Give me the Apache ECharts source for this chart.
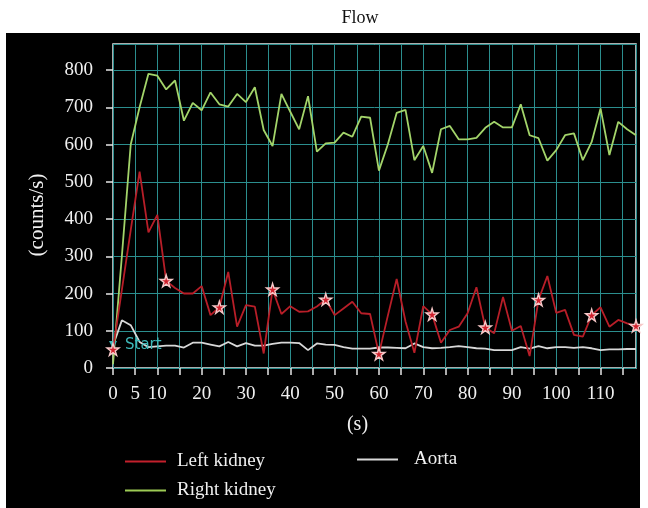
<!DOCTYPE html>
<html>
<head>
<meta charset="utf-8">
<script src="https://cdn.jsdelivr.net/npm/echarts@6/dist/echarts.min.js"></script>
<style>
html,body{margin:0;padding:0;background:#fff;}
#chart{width:648px;height:508px;}
</style>
</head>
<body>
<div id="chart"></div>
<script>
// Time (s)
const times = [0,2,4,6,8,10,12,14,16,18,20,22,24,26,28,30,32,34,36,38,40,42,44,46,48,50,52,54,56,58,
  60,62,64,66,68,70,72,74,76,78,80,82,84,86,88,90,92,94,96,98,100,102,104,106,108,110,112,114,116,118];
// Left kidney (counts/s)
const leftKidney = [50,210,370,527,364,411,234,215,200,200,220,142,163,258,111,169,165,39,211,145,
  166,151,152,165,184,142,160,178,147,145,38,140,239,125,41,166,144,68,102,111,
  147,217,109,93,191,100,113,32,183,247,148,156,89,84,142,163,111,129,120,113];
// Right kidney (counts/s)
const rightKidney = [10,300,600,700,790,785,748,772,664,712,692,740,708,702,736,714,754,639,596,736,
  688,641,730,581,603,605,632,621,675,672,530,600,685,693,558,596,524,641,650,614,
  614,618,645,661,646,646,708,625,617,557,585,625,630,558,607,697,572,661,641,625];
// Aorta (counts/s)
const aorta = [60,128,115,70,56,58,60,60,55,68,68,63,58,70,58,67,60,60,65,68,
  68,67,48,66,63,62,56,52,52,52,55,55,54,53,66,56,53,54,56,59,
  56,53,52,48,48,48,56,52,59,53,56,56,54,56,53,48,50,50,51,51];
// Times with star markers on the left kidney curve
const markerTimes = [0,12,24,36,48,60,72,84,96,108,118];
const xTickLabels = [0,5,10,20,30,40,50,60,70,80,90,100,110];
const yTickLabels = [0,100,200,300,400,500,600,700,800];
const startPoint = [0, 62];

const pair = (vals) => times.map((t, i) => [t, vals[i]]);
const serif = '"Liberation Serif", "DejaVu Serif", serif';
const STAR = 'path://M50,0 L61,35 L98,35 L68,57 L79,91 L50,70 L21,91 L32,57 L2,35 L39,35 Z';
const RED = '#c3202c', GREEN = '#a3d46a', WHITE = '#d8d8d8';

const chart = echarts.init(document.getElementById('chart'));
chart.setOption({
  backgroundColor: '#ffffff',
  animation: false,
  title: {
    text: 'Flow', left: 355, top: 4, textAlign: 'center',
    textStyle: {color: '#111', fontFamily: serif, fontSize: 18, fontWeight: 'normal'}
  },
  graphic: [{
    type: 'rect', z: -100, silent: true,
    shape: {x: 6, y: 33, width: 634, height: 475},
    style: {fill: '#000'}
  }],
  grid: {
    left: 113, right: 12, top: 44, bottom: 140,
    show: true, backgroundColor: '#000', borderColor: '#e6e6e6', borderWidth: 1.5
  },
  legend: [{
    orient: 'vertical', left: 125, top: 452, itemGap: 10, padding: 0,
    itemWidth: 41, itemHeight: 2, icon: 'rect',
    data: [{name: 'Left kidney', itemStyle: {color: RED, borderWidth: 0}}, 'Right kidney'],
    textStyle: {color: '#f0f0f0', fontFamily: serif, fontSize: 19, padding: [0, 0, 0, 6]}
  }, {
    orient: 'vertical', left: 357, top: 450, padding: 0,
    itemWidth: 41, itemHeight: 2, icon: 'rect',
    data: ['Aorta'],
    textStyle: {color: '#f0f0f0', fontFamily: serif, fontSize: 19, padding: [0, 0, 0, 11]}
  }],
  xAxis: {
    type: 'value', min: 0, max: 118, interval: 5,
    name: '(s)', nameLocation: 'middle', nameGap: 47,
    nameTextStyle: {color: '#f0f0f0', fontFamily: serif, fontSize: 20, padding: [0, 34, 0, 0]},
    axisLine: {show: false},
    axisTick: {show: true, length: 7, lineStyle: {color: '#e6e6e6', width: 1.5}},
    axisLabel: {
      color: '#f0f0f0', fontFamily: serif, fontSize: 19, margin: 17,
      showMaxLabel: false,
      formatter: (v) => xTickLabels.indexOf(v) >= 0 ? String(v) : ''
    },
    splitLine: {show: true, lineStyle: {color: '#2b8e8e', width: 1}}
  },
  yAxis: {
    type: 'value', min: 0, max: 870, interval: 100,
    name: '(counts/s)', nameLocation: 'middle', nameGap: 65, nameRotate: 90,
    nameTextStyle: {color: '#f0f0f0', fontFamily: serif, fontSize: 21, padding: [0, 18, 0, 0]},
    axisLine: {show: false},
    axisTick: {show: true, length: 7, lineStyle: {color: '#e6e6e6', width: 1.5}},
    axisLabel: {
      color: '#f0f0f0', fontFamily: serif, fontSize: 19, margin: 20,
      showMaxLabel: false,
      formatter: (v) => yTickLabels.indexOf(v) >= 0 ? String(v) : ''
    },
    splitLine: {show: true, lineStyle: {color: '#2b8e8e', width: 1}}
  },
  series: [{
    name: 'Aorta', type: 'line', data: pair(aorta),
    showSymbol: false, symbol: 'none', z: 3,
    color: WHITE,
    lineStyle: {color: WHITE, width: 1.8},
    markPoint: {
      symbol: 'triangle', symbolSize: 8, symbolRotate: 180,
      itemStyle: {color: '#3db8b8'},
      label: {show: true, position: 'right', distance: 8, formatter: 'Start',
        color: '#3db8b8', fontFamily: '"DejaVu Sans", sans-serif', fontSize: 15},
      data: [{coord: startPoint}]
    }
  }, {
    name: 'Right kidney', type: 'line', data: pair(rightKidney),
    showSymbol: false, symbol: 'none', z: 4,
    color: '#9dcb55',
    lineStyle: {color: GREEN, width: 1.8}
  }, {
    name: 'Left kidney', type: 'line', data: pair(leftKidney),
    z: 5, showSymbol: true, showAllSymbol: true,
    symbol: (value) => markerTimes.indexOf(value[0]) >= 0 ? STAR : 'none',
    symbolSize: 12,
    color: RED,
    itemStyle: {color: '#d0202c', borderColor: '#f6c8c8', borderWidth: 1.4},
    lineStyle: {color: '#b81e28', width: 1.8}
  }]
});
</script>
</body>
</html>
